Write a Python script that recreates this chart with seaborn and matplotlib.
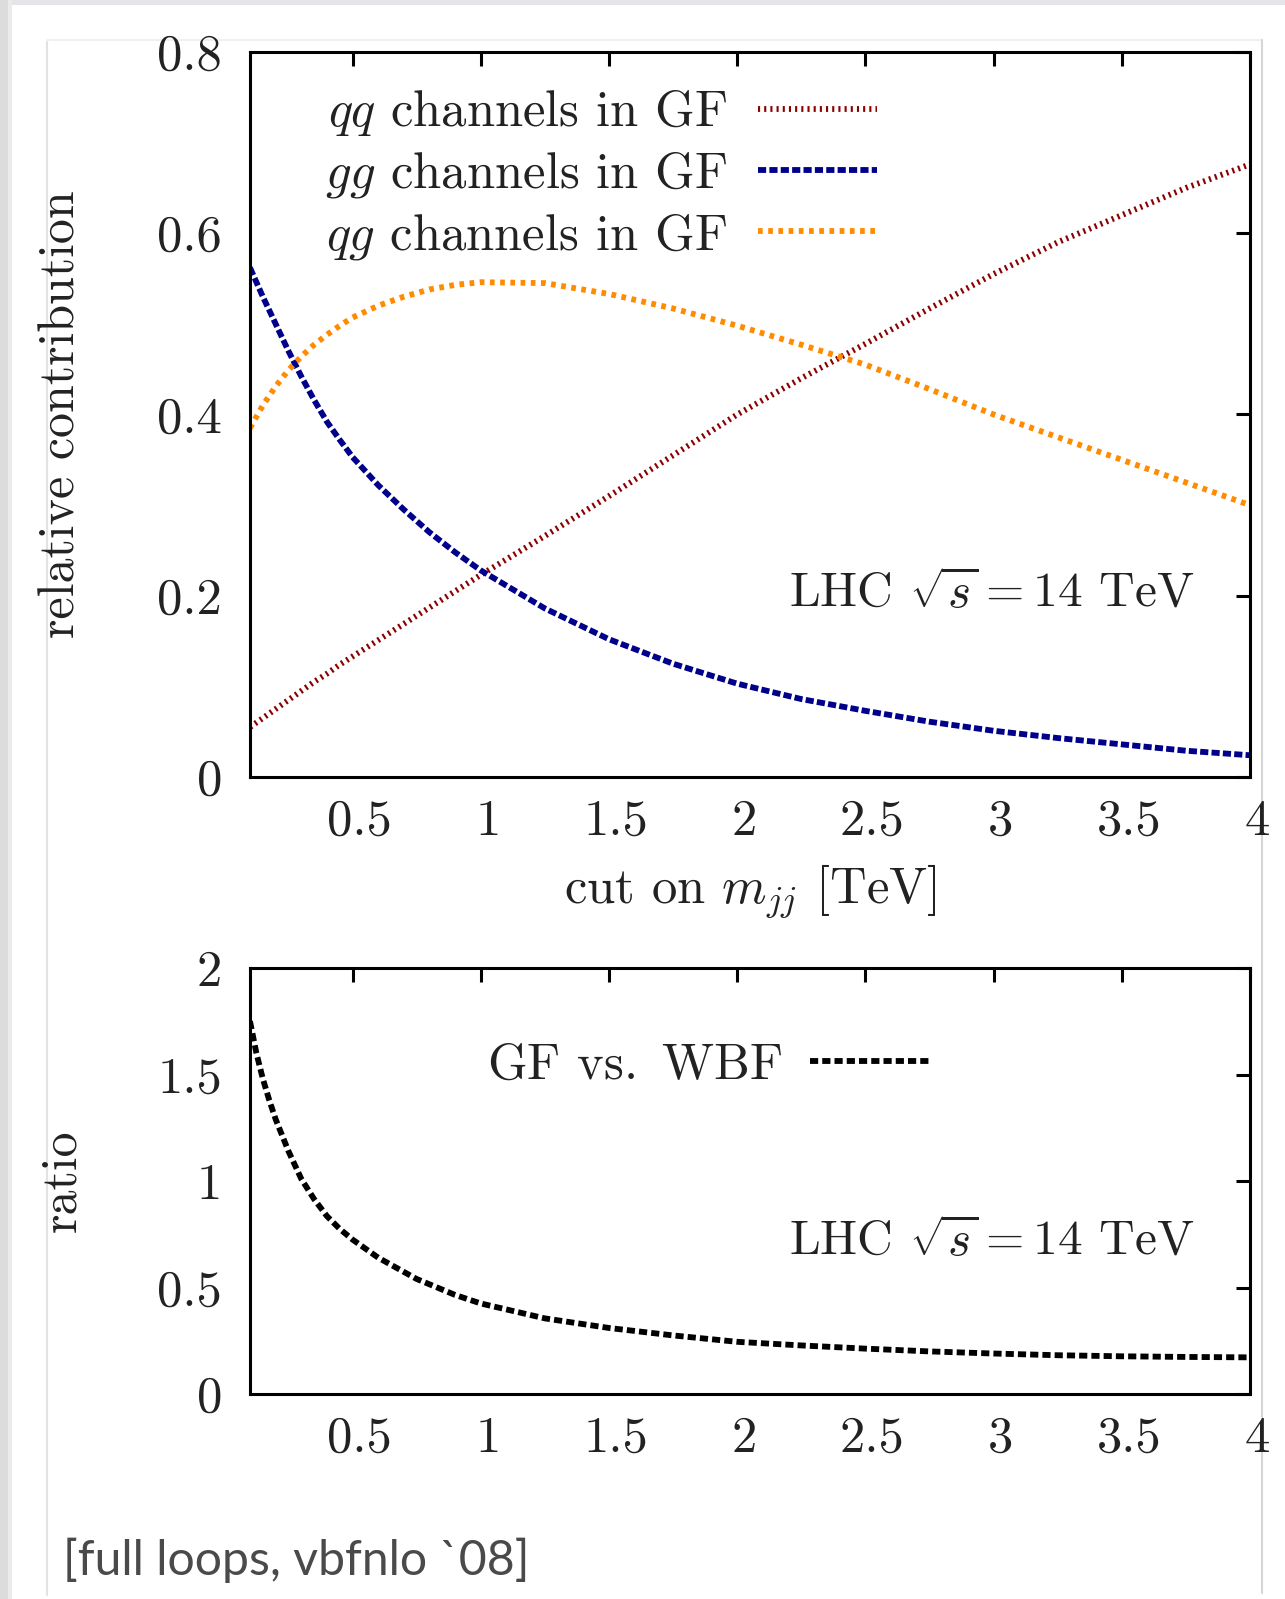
import matplotlib
matplotlib.use('Agg')
import matplotlib.pyplot as plt
import matplotlib.transforms as mtrans
from matplotlib.patches import Rectangle
from matplotlib.lines import Line2D
import seaborn as sns
import pandas as pd

# cut on m_jj [TeV]
cut_top = [0.1, 0.15, 0.2, 0.25, 0.3, 0.35, 0.4, 0.45, 0.5, 0.6, 0.7, 0.8, 0.9,
           1.0, 1.25, 1.5, 1.75, 2.0, 2.25, 2.5, 2.75, 3.0, 3.25, 3.5, 3.75, 4.0]
qq_gf = [0.055, 0.065, 0.075, 0.085, 0.095, 0.105, 0.114, 0.124, 0.133, 0.151,
         0.169, 0.187, 0.205, 0.223, 0.266, 0.31, 0.355, 0.40, 0.44, 0.478,
         0.517, 0.555, 0.59, 0.62, 0.65, 0.676]
gg_gf = [0.562, 0.53, 0.50, 0.47, 0.442, 0.416, 0.392, 0.372, 0.353, 0.322,
         0.295, 0.27, 0.248, 0.228, 0.186, 0.152, 0.125, 0.103, 0.086, 0.073,
         0.061, 0.051, 0.043, 0.036, 0.029, 0.024]
qg_gf = [0.385, 0.41, 0.431, 0.449, 0.464, 0.477, 0.488, 0.498, 0.507, 0.520,
         0.530, 0.538, 0.543, 0.546, 0.545, 0.533, 0.517, 0.498, 0.477, 0.455,
         0.428, 0.40, 0.375, 0.35, 0.325, 0.30]

cut_bot = [0.1, 0.125, 0.15, 0.175, 0.2, 0.25, 0.3, 0.35, 0.4, 0.45, 0.5, 0.6,
           0.75, 0.9, 1.0, 1.25, 1.5, 1.75, 2.0, 2.25, 2.5, 2.75, 3.0, 3.25,
           3.5, 3.75, 4.0]
ratio_gf_wbf = [1.75, 1.60, 1.48, 1.38, 1.29, 1.14, 1.01, 0.915, 0.835, 0.775,
                0.725, 0.64, 0.54, 0.465, 0.425, 0.355, 0.31, 0.275, 0.245,
                0.228, 0.213, 0.20, 0.19, 0.182, 0.177, 0.174, 0.172]

xticks = [0.5, 1, 1.5, 2, 2.5, 3, 3.5, 4]
xticklabels = ['0.5', '1', '1.5', '2', '2.5', '3', '3.5', '4']
yticks_top = [0, 0.2, 0.4, 0.6, 0.8]
yticklabels_top = ['0', '0.2', '0.4', '0.6', '0.8']
yticks_bot = [0, 0.5, 1, 1.5, 2]
yticklabels_bot = ['0', '0.5', '1', '1.5', '2']

sns.set_style('white')
plt.rcParams['font.family'] = 'cmr10'
plt.rcParams['mathtext.fontset'] = 'cm'
plt.rcParams['axes.formatter.use_mathtext'] = True
plt.rcParams['axes.unicode_minus'] = False

FS = 36.5
TXT = '#222222'
fig = plt.figure(figsize=(12.85, 15.99), dpi=100)

# slide frame around the figure
W, H = 1285, 1599
fig.add_artist(Rectangle((0, 1 - 5 / H), 1, 5 / H, transform=fig.transFigure,
                         color='#e3e5e9', lw=0, zorder=-5))
fig.add_artist(Rectangle((0, 0), 12 / W, 1, transform=fig.transFigure,
                         color='#dcdcdc', lw=0, zorder=-5))
fig.add_artist(Rectangle((8 / W, 0), 4 / W, 1, transform=fig.transFigure,
                         color='#ebebeb', lw=0, zorder=-5))
fig.add_artist(Line2D([47 / W, 47 / W], [1 - 42 / H, 1 - 1595 / H],
                      transform=fig.transFigure, color='#e2e2e2', lw=1.5, zorder=-5))
fig.add_artist(Line2D([47 / W, 1262 / W], [1 - 40 / H, 1 - 40 / H],
                      transform=fig.transFigure, color='#f0f0f0', lw=1.5, zorder=-5))
fig.add_artist(Line2D([1262 / W, 1262 / W], [1 - 40 / H, 1 - 1593 / H],
                      transform=fig.transFigure, color='#d6d6d6', lw=1.5, zorder=-5))

ax1 = fig.add_axes([250 / W, 1 - 777 / H, 1000 / W, 725 / H])
ax2 = fig.add_axes([250 / W, 1 - 1394 / H, 1000 / W, 426 / H])

df_top = pd.DataFrame({'cut': cut_top, 'qq': qq_gf, 'gg': gg_gf, 'qg': qg_gf})
df_bot = pd.DataFrame({'cut': cut_bot, 'ratio': ratio_gf_wbf})

sns.lineplot(data=df_top, x='cut', y='qq', ax=ax1, color='#8b0000', lw=4.2,
             linestyle=(0, (0.36, 0.7)), label=r'$qq$ channels in GF')
sns.lineplot(data=df_top, x='cut', y='gg', ax=ax1, color='#00008b', lw=4.2,
             linestyle=(0, (1.4, 0.55)), label=r'$gg$ channels in GF')
sns.lineplot(data=df_top, x='cut', y='qg', ax=ax1, color='#ff8c00', lw=4.2,
             linestyle=(0, (0.8, 0.95)), label=r'$qg$ channels in GF')
sns.lineplot(data=df_bot, x='cut', y='ratio', ax=ax2, color='black', lw=4.2,
             linestyle=(0, (1.4, 0.7)), label=r'GF vs.$\,$ WBF')

offset = mtrans.ScaledTranslation(0.07, 0, fig.dpi_scale_trans)
for ax, yt, ytl, ylim in [(ax1, yticks_top, yticklabels_top, (0, 0.8)),
                          (ax2, yticks_bot, yticklabels_bot, (0, 2))]:
    ax.set_xlim(0.1, 4)
    ax.set_ylim(*ylim)
    ax.set_xticks(xticks)
    ax.set_xticklabels(xticklabels)
    ax.set_yticks(yt)
    ax.set_yticklabels(ytl)
    ax.tick_params(direction='in', length=10, width=2.2, top=True, right=True,
                   labelsize=FS, colors='black', labelcolor=TXT)
    ax.tick_params(axis='y', pad=20)
    ax.tick_params(axis='x', pad=16)
    for lab in ax.get_xticklabels():
        lab.set_transform(lab.get_transform() + offset)
    for s in ax.spines.values():
        s.set_linewidth(2.2)
        s.set_color('black')
    ax.set_facecolor('white')

lhc = r'LHC $\sqrt{s}=14$ TeV'
ax1.text(944 / 1000, 1 - (594 - 52) / 725, lhc, transform=ax1.transAxes,
         ha='right', va='center', fontsize=35.6, color=TXT)
ax2.text(944 / 1000, 1 - (1242 - 968) / 426, lhc, transform=ax2.transAxes,
         ha='right', va='center', fontsize=35.6, color=TXT)

ax1.set_xlabel(r'cut on $m_{jj}$ [TeV]', fontsize=FS, color=TXT, labelpad=12)
ax2.set_xlabel('')
ax1.set_ylabel('relative contribution', fontsize=36, color=TXT)
ax2.set_ylabel('ratio', fontsize=36, color=TXT)
ax1.yaxis.set_label_coords(-0.165, 0.5)
ax2.yaxis.set_label_coords(-0.165, 0.5)

ax1.legend(loc='upper right', bbox_to_anchor=(0.627, 0.95), frameon=False,
           markerfirst=False, fontsize=FS, handlelength=2.35, handletextpad=0.6,
           labelspacing=0.23, borderpad=0, borderaxespad=0, labelcolor=TXT)
ax2.legend(loc='upper right', bbox_to_anchor=(0.682, 0.825), frameon=False,
           markerfirst=False, fontsize=FS, handlelength=2.4, handletextpad=0.55,
           borderpad=0, borderaxespad=0, labelcolor=TXT)

fig.text(63 / W, 1 - 1560 / H, '[full loops, vbfnlo `08]', family='Lato',
         fontsize=34.7, color='#4a4a4a', ha='left', va='center')

fig.savefig('out.png', dpi=100, facecolor='white')
